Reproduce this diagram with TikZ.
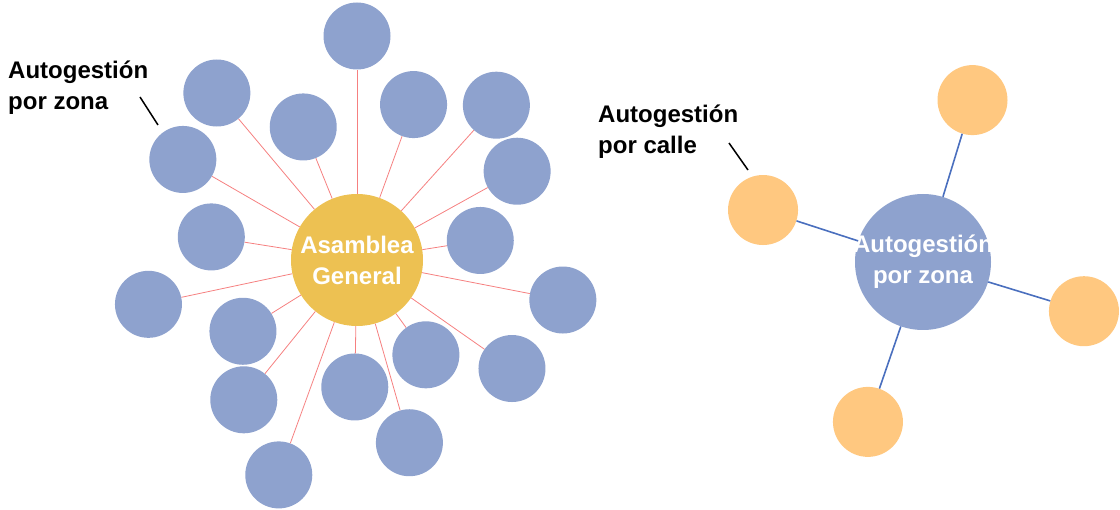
\documentclass[tikz,border=0pt]{standalone}
\usepackage{fontspec}
\setmainfont{Liberation Sans}
\definecolor{zonaazul}{HTML}{8EA2CE}
\definecolor{asamblea}{HTML}{EDC152}
\definecolor{naranja}{HTML}{FFC880}
\definecolor{rojo}{HTML}{F46A6A}
\definecolor{azulosc}{HTML}{4A6FBE}
\tikzset{
  rama/.style 2 args={grow=#1,level distance=#2pt,sibling distance=0pt},
  hub/.style={circle,inner sep=0pt,text=white,align=center,
    font=\fontsize{24}{31}\selectfont\bfseries},
  zona/.style={circle,fill=zonaazul,minimum size=67pt,inner sep=0pt},
  calle/.style={circle,fill=naranja,minimum size=70pt,inner sep=0pt},
  etiqueta/.style={anchor=base west,align=left,inner sep=0pt,
    font=\fontsize{24}{31}\selectfont\bfseries}
}
\begin{document}
\begin{tikzpicture}[x=1pt,y=1pt]
\useasboundingbox (0,0) rectangle (1120,-510);

% asamblea general
\begin{scope}[edge from parent/.style={draw=rojo,line width=0.8pt,opacity=.85}]
\node[hub,fill=asamblea,minimum size=132pt] (AG) at (357,-260) {Asamblea\\General}
  child[rama={9.7}{124.8}] {node[zona] (Z1) {}}
  child[rama={29.1}{183.1}] {node[zona] (Z2) {}}
  child[rama={48.5}{208.3}] {node[zona] (Z3) {}}
  child[rama={70.6}{165.4}] {node[zona] (Z4) {}}
  child[rama={90.3}{224}] {node[zona] (Z5) {}}
  child[rama={112.1}{143.5}] {node[zona] (Z6) {}}
  child[rama={130}{218}] {node[zona] (Z7) {}}
  child[rama={150.5}{201.1}] {node[zona] (Z8) {}}
  child[rama={171.8}{147.5}] {node[zona] (Z9) {}}
  child[rama={192.7}{213.2}] {node[zona] (Z10) {}}
  child[rama={212.9}{134.5}] {node[zona] (Z11) {}}
  child[rama={231.1}{179.9}] {node[zona] (Z12) {}}
  child[rama={250.1}{228.7}] {node[zona] (Z13) {}}
  child[rama={269.5}{127}] {node[zona] (Z14) {}}
  child[rama={286.8}{190.1}] {node[zona] (Z15) {}}
  child[rama={306.7}{117.2}] {node[zona] (Z16) {}}
  child[rama={325.6}{189.2}] {node[zona] (Z17) {}}
  child[rama={349.3}{209.7}] {node[zona] (Z18) {}};
\end{scope}

% autogestion por zona
\begin{scope}[edge from parent/.style={draw=azulosc,line width=1.6pt}]
\node[hub,fill=zonaazul,minimum size=136pt,inner sep=-8pt] (AZ) at (923,-262) {Autogestión\\por zona}
  child[rama={73}{169.3}] {node[calle] (C1) {}}
  child[rama={162}{168.2}] {node[calle] (C2) {}}
  child[rama={251.2}{169.1}] {node[calle] (C3) {}}
  child[rama={343.1}{168.3}] {node[calle] (C4) {}};
\end{scope}

% etiquetas
\node[etiqueta] (Lzona) at (8,-110) {Autogestión\\por zona};
\node[etiqueta] (Lcalle) at (598,-154) {Autogestión\\por calle};
\coordinate (pz1) at (140,-97);
\coordinate (pz2) at (158,-125);
\coordinate (pc1) at (729,-143);
\coordinate (pc2) at (748,-170);
\draw[line width=1.5pt] (pz1) -- (pz2);
\draw[line width=1.5pt] (pc1) -- (pc2);
\end{tikzpicture}
\end{document}
